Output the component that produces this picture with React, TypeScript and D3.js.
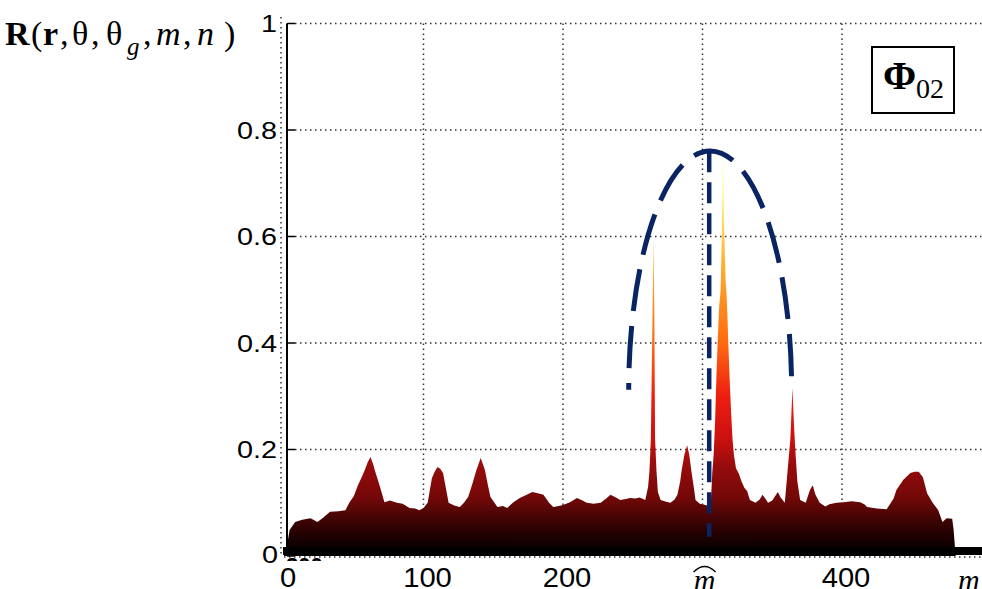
import React from 'react'
import * as d3 from 'd3'

const W = 982
const H = 589

// profile of the surface seen from the side (m, R)
const profileM = [
  0, 2, 4, 8, 13, 19, 24, 28, 33, 39, 44, 47, 50, 53, 56, 58, 60, 62, 64, 65, 67, 69, 72, 76, 81, 85, 90, 94, 97,
  100, 103, 106, 108, 110, 112, 114, 116, 118, 122, 126, 129, 132, 135, 138, 141, 144, 146, 148, 153, 157, 160,
  164, 169, 174, 178, 182, 186, 190, 193, 197, 200, 205, 210, 214, 217, 222, 227, 231, 234, 238, 241, 245, 248,
  252, 255, 259, 261, 262, 263, 264, 265, 265.5, 266, 267, 268, 270, 274, 277, 280, 282, 284, 285, 287, 289,
  290.5, 292, 294, 295, 298, 302, 305, 306, 307, 308, 309, 310, 311, 312, 313, 314, 314.7, 315.5, 316.5, 317.5,
  318.5, 319.5, 320.5, 321.5, 322.5, 324, 326, 328, 330, 332, 334, 338, 341, 343, 345, 347, 350, 352, 354, 356,
  359, 361, 363, 364.5, 365.5, 366.5, 368, 370, 374, 377, 379, 381, 384, 388, 391, 396, 401, 407, 413, 416, 418,
  425, 432, 434, 437, 439, 444, 449, 452, 455, 458, 461, 465, 469, 472, 475, 479, 480, 481, 481.5,
]
const profileV = [
  0, 0.017, 0.049, 0.064, 0.068, 0.071, 0.064, 0.072, 0.083, 0.084, 0.086, 0.101, 0.112, 0.133, 0.15, 0.162,
  0.176, 0.186, 0.172, 0.162, 0.145, 0.128, 0.101, 0.104, 0.1, 0.098, 0.09, 0.089, 0.086, 0.09, 0.1, 0.146,
  0.158, 0.167, 0.164, 0.156, 0.128, 0.1, 0.095, 0.092, 0.1, 0.111, 0.135, 0.162, 0.184, 0.162, 0.135, 0.111,
  0.092, 0.094, 0.09, 0.1, 0.109, 0.115, 0.12, 0.118, 0.115, 0.1, 0.092, 0.094, 0.096, 0.101, 0.109, 0.104, 0.1,
  0.098, 0.1, 0.108, 0.115, 0.11, 0.105, 0.107, 0.109, 0.108, 0.11, 0.105, 0.13, 0.16, 0.22, 0.42, 0.6, 0.45,
  0.22, 0.16, 0.12, 0.105, 0.102, 0.1, 0.106, 0.115, 0.14, 0.16, 0.19, 0.208, 0.19, 0.16, 0.125, 0.105, 0.098,
  0.096, 0.094, 0.1, 0.156, 0.19, 0.25, 0.34, 0.41, 0.47, 0.5, 0.62, 0.755, 0.62, 0.52, 0.48, 0.4, 0.33, 0.27,
  0.22, 0.19, 0.165, 0.155, 0.14, 0.128, 0.122, 0.105, 0.1, 0.106, 0.115, 0.108, 0.1, 0.104, 0.112, 0.12, 0.11,
  0.1, 0.16, 0.22, 0.316, 0.25, 0.2, 0.14, 0.105, 0.1, 0.124, 0.133, 0.115, 0.1, 0.093, 0.097, 0.1, 0.101,
  0.103, 0.101, 0.097, 0.092, 0.089, 0.088, 0.096, 0.108, 0.124, 0.143, 0.156, 0.158, 0.158, 0.148, 0.118, 0.1,
  0.086, 0.064, 0.071, 0.07, 0.05, 0.015, 0,
]

const yTicks = [0, 0.2, 0.4, 0.6, 0.8, 1]
const yTickLabels = ['0', '0.2', '0.4', '0.6', '0.8', '1']
const xGrid = [100, 200, 300, 400]
const xTicks = [0, 100, 200, 400]
const xTickLabels = ['0', '100', '200', '400']
const mHatAt = 301.5

// dashed guide: half ellipse over the main lobe and the marker line
const ellipseCenter = [305.5, 0.312]
const ellipseRadius = [58.4, 0.449]
const markerM = 304.8
const markerRange = [0.036, 0.76]

// "hot" style colouring by height
const heatStops: [number, string][] = [
  [0, '#000000'],
  [0.03, '#170000'],
  [0.07, '#420404'],
  [0.11, '#740808'],
  [0.17, '#980c0c'],
  [0.22, '#cc1010'],
  [0.3, '#ee1e10'],
  [0.4, '#ff6a10'],
  [0.55, '#ffb030'],
  [0.7, '#ffff80'],
  [0.8, '#ffffa0'],
]

const navy = '#0a2463'
const sans = '"Liberation Sans", Arial, sans-serif'
const serif = '"Liberation Serif", "Times New Roman", serif'

export default function App() {
  const x = d3.scaleLinear().domain([0, 500]).range([284, 981.5])
  const y = d3.scaleLinear().domain([0, 1]).range([556, 23.5])

  const area = d3
    .area<number>()
    .x((_, i) => x(profileM[i]))
    .y0(y(0))
    .y1((d) => y(d))
    .curve(d3.curveLinear)

  const axisX = 287
  const dots = '1.5 3.5'

  const ex0 = x(ellipseCenter[0] - ellipseRadius[0])
  const ex1 = x(ellipseCenter[0] + ellipseRadius[0])
  const ey = y(ellipseCenter[1])
  const rxPx = x(ellipseRadius[0]) - x(0)
  const ryPx = y(0) - y(ellipseRadius[1])

  return (
    <svg width={W} height={H} style={{ position: 'absolute', left: 0, top: 0, background: '#fff' }}>
      <defs>
        <linearGradient id="heat" gradientUnits="userSpaceOnUse" x1={0} y1={y(0)} x2={0} y2={y(0.8)}>
          {heatStops.map(([v, c]) => (
            <stop key={v} offset={v / 0.8} stopColor={c} />
          ))}
        </linearGradient>
        <clipPath id="peek">
          <rect x={282} y={555} width={56} height={6} />
        </clipPath>
      </defs>
      <rect width={W} height={H} fill="#fff" />

      {/* grid */}
      <g stroke="#333" strokeWidth={1.5} strokeDasharray={dots}>
        {yTicks.slice(1).map((t) => (
          <line key={t} x1={axisX + 8} x2={W} y1={y(t)} y2={y(t)} />
        ))}
        {xGrid.map((t) => (
          <line key={t} x1={x(t)} x2={x(t)} y1={y(1)} y2={y(0)} />
        ))}
        <line x1={281} x2={281} y1={17} y2={y(0)} />
        <line x1={284} x2={W} y1={557} y2={557} />
      </g>

      {/* surface profile */}
      <path d={area(profileV) ?? ''} fill="url(#heat)" />

      {/* bottom bar and y axis */}
      <text x={286} y={573} fontFamily={sans} fontSize={22} fontWeight="bold" clipPath="url(#peek)">
        200
      </text>
      <rect x={283} y={547} width={W - 283} height={8} fill="#000" />
      <line x1={axisX} x2={axisX} y1={y(1)} y2={552} stroke="#000" strokeWidth={2} />
      {yTicks.map((t) => (
        <line key={t} x1={axisX} x2={axisX + 8} y1={y(t)} y2={y(t)} stroke="#000" strokeWidth={1.5} />
      ))}

      {/* y tick labels */}
      {yTicks.map((t, i) => (
        <text
          key={t}
          transform={`translate(${t === 0 ? 278 : 277},${Math.min(y(t) + 8.5, 563)}) scale(1.2,1)`}
          textAnchor="end"
          fontFamily={sans}
          fontSize={24}
          fill="#000"
        >
          {yTickLabels[i]}
        </text>
      ))}

      {/* x tick labels */}
      {xTicks.map((t, i) => (
        <text
          key={t}
          transform={`translate(${x(t) + 4},587) scale(1.08,1)`}
          textAnchor="middle"
          fontFamily={sans}
          fontSize={27}
          fill="#000"
        >
          {xTickLabels[i]}
        </text>
      ))}
      <text x={x(mHatAt)} y={590} textAnchor="middle" fontFamily={serif} fontStyle="italic" fontSize={30}>
        m
      </text>
      <path
        d={`M${x(mHatAt) - 11},572 Q${x(mHatAt)},561 ${x(mHatAt) + 11},572`}
        fill="none"
        stroke="#000"
        strokeWidth={1.4}
      />
      <text x={958} y={590} fontFamily={serif} fontStyle="italic" fontSize={30}>
        m
      </text>

      {/* dashed guides */}
      <path
        d={`M${ex0},${ey} A${rxPx},${ryPx} 0 0 1 ${ex1},${ey}`}
        fill="none"
        stroke={navy}
        strokeWidth={5}
        strokeDasharray="42 15"
        strokeDashoffset={35}
      />
      <line
        x1={x(markerM)}
        x2={x(markerM)}
        y1={y(markerRange[1])}
        y2={y(markerRange[0])}
        stroke={navy}
        strokeWidth={4.5}
        strokeDasharray="21 10"
      />

      {/* legend */}
      <rect x={872} y={47} width={82} height={66} fill="#fff" stroke="#000" strokeWidth={2} />
      <text x={883} y={89} fontFamily={serif} fontSize={40} fontWeight="bold">
        Φ
      </text>
      <text x={916} y={98} fontFamily={serif} fontSize={28}>
        02
      </text>

      {/* y axis title */}
      <text fontFamily={serif} fontSize={34} fill="#000">
        <tspan x={5} y={45} fontWeight="bold">R</tspan>
        <tspan x={31} y={45}>(</tspan>
        <tspan x={43} y={45} fontWeight="bold">r</tspan>
        <tspan x={60} y={45}>,</tspan>
        <tspan x={72} y={45}>θ</tspan>
        <tspan x={91} y={45}>,</tspan>
        <tspan x={106} y={45}>θ</tspan>
        <tspan x={127} y={55} fontStyle="italic" fontSize={25}>g</tspan>
        <tspan x={143} y={45}>,</tspan>
        <tspan x={156} y={45} fontStyle="italic">m</tspan>
        <tspan x={183} y={45}>,</tspan>
        <tspan x={197} y={45} fontStyle="italic">n</tspan>
        <tspan x={224} y={45}>)</tspan>
      </text>
    </svg>
  )
}
